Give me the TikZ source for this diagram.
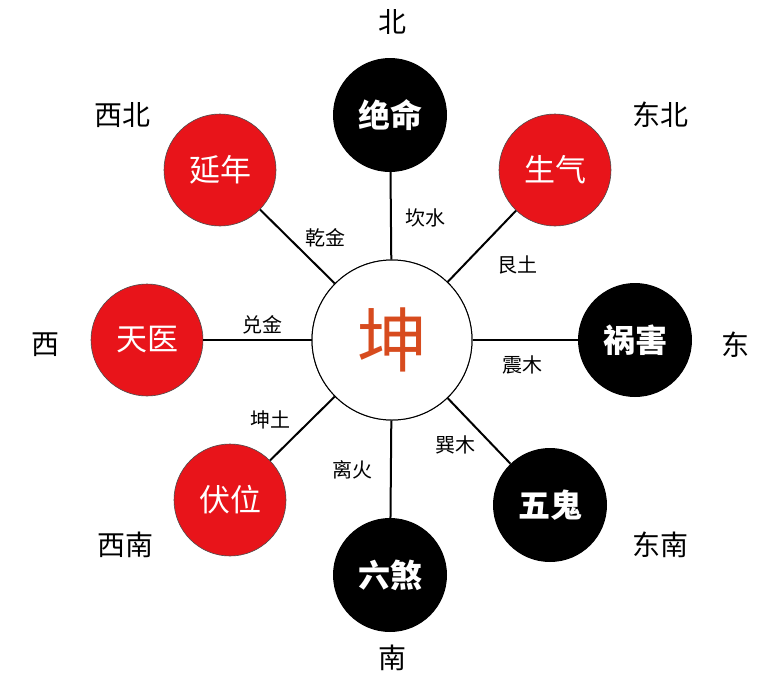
\documentclass[tikz,border=0pt]{standalone}
\usepackage{fontspec}
\newfontfamily\cjk{Noto Sans CJK SC}
\definecolor{myred}{HTML}{E8141A}
\begin{document}
\begin{tikzpicture}[x=1pt,y=-1pt,
 red/.style={circle,fill=myred,draw=black!70,line width=0.6pt,minimum size=112pt,inner sep=0pt,text=white,font=\cjk\fontsize{31}{31}\selectfont},
 blk/.style={circle,fill=black,minimum size=114pt,inner sep=0pt,text=white,font=\cjk\bfseries\fontsize{32}{32}\selectfont},
 dir/.style={font=\cjk\fontsize{28}{28}\selectfont},
 lab/.style={font=\cjk\fontsize{20}{20}\selectfont,fill=white,inner sep=1pt},
 ln/.style={line width=2pt}]
\useasboundingbox (0,0) rectangle (782,678);
\node[circle,draw=black,line width=1pt,minimum size=160pt,fill=white] (c) at (392,340) {};
\node[blk] (n) at (390,115) {绝命};
\node[red] (ne) at (555,170) {生气};
\node[blk] (e) at (635,340) {祸害};
\node[blk] (se) at (550,505) {五鬼};
\node[blk] (s) at (390,575) {六煞};
\node[red] (sw) at (230,500) {伏位};
\node[red] (w) at (147,340) {天医};
\node[red] (nw) at (220,170) {延年};
\foreach \t in {n,ne,e,se,s,sw,w,nw} \draw[ln] (c) -- (\t);
\node[circle,draw=black,line width=1pt,minimum size=160pt,fill=white,font=\cjk\fontsize{70}{70}\selectfont,text={rgb,255:red,215;green,75;blue,30}] (cc) at (392,340) {坤};
\node[lab] (l1) at (425,218) {坎水};
\node[lab] (l2) at (517,265) {艮土};
\node[lab] (l3) at (522,365) {震木};
\node[lab] (l4) at (455,445) {巽木};
\node[lab] (l5) at (352,470) {离火};
\node[lab] (l6) at (270,420) {坤土};
\node[lab] (l7) at (262,325) {兑金};
\node[lab] (l8) at (325,238) {乾金};
\node[dir] (d1) at (392,22) {北};
\node[dir] (d2) at (660,115) {东北};
\node[dir] (d3) at (735,345) {东};
\node[dir] (d4) at (660,545) {东南};
\node[dir] (d5) at (392,658) {南};
\node[dir] (d6) at (125,545) {西南};
\node[dir] (d7) at (45,345) {西};
\node[dir] (d8) at (122,115) {西北};
\end{tikzpicture}
\end{document}
